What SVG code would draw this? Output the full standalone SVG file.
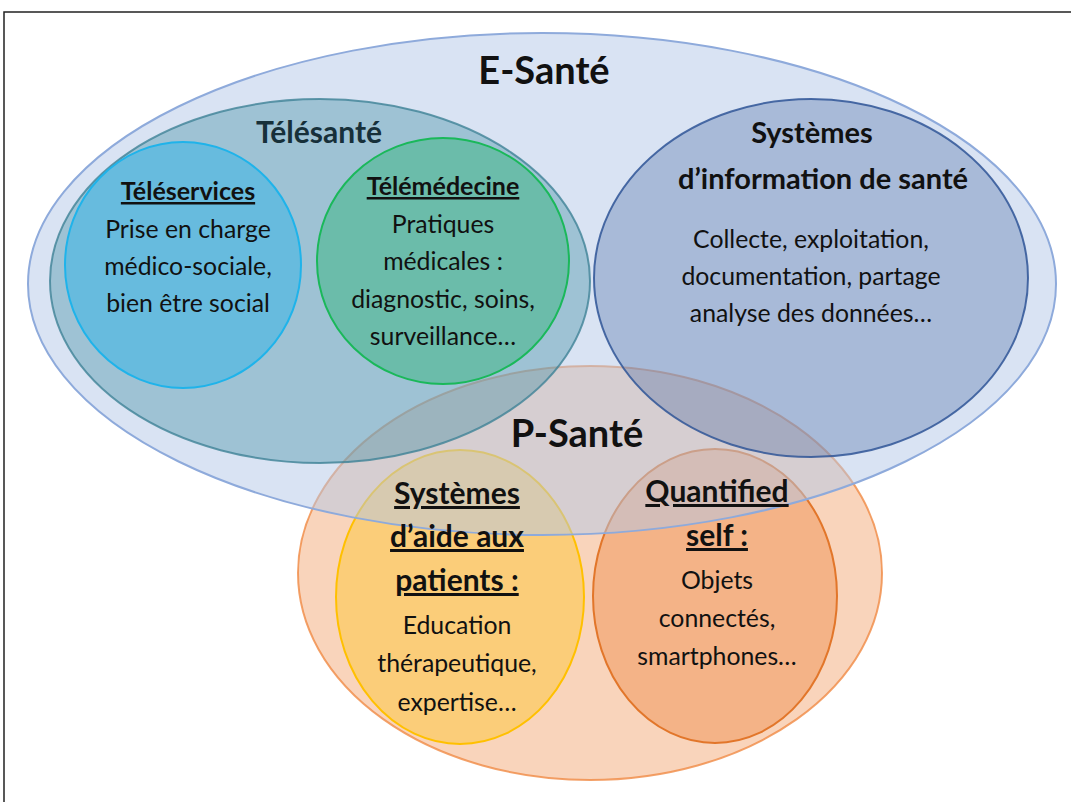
<svg xmlns="http://www.w3.org/2000/svg" width="1071" height="802" viewBox="0 0 1071 802">
<style>
text{font-family:Lato,"Open Sans","Liberation Sans",sans-serif;text-anchor:middle;fill:#111}
.big{font-size:38px;font-weight:700}
.h{font-size:25px;font-weight:700;text-decoration:underline}
.h2{font-size:30px;font-weight:700;text-decoration:underline}
.t{font-size:24.8px}
.si{font-size:29px;font-weight:700}
</style>
<rect x="4" y="12" width="1100" height="820" fill="#fff" stroke="#222" stroke-width="1.5"/>
<g id="p-sante">
<ellipse cx="590" cy="573" rx="292" ry="207" fill="#f4b183" fill-opacity="0.55" stroke="#f08a43" stroke-opacity="0.8" stroke-width="2"/>
</g>
<g id="aide-patients">
<ellipse cx="460" cy="597" rx="124" ry="147" fill="#ffc000" fill-opacity="0.35" stroke="#ffc000" stroke-width="2"/>
</g>
<g id="quantified-self">
<ellipse cx="715" cy="596" rx="122" ry="147" fill="#ed7d31" fill-opacity="0.38" stroke="#e2762a" stroke-width="2"/>
</g>
<g id="e-sante">
<ellipse cx="542" cy="284" rx="514" ry="251" fill="#b4c7e7" fill-opacity="0.5" stroke="#8eaadb" stroke-width="2"/>
</g>
<g id="telesante">
<ellipse cx="320" cy="281" rx="270" ry="182" fill="#31859c" fill-opacity="0.35" stroke="#3e8296" stroke-opacity="0.8" stroke-width="2"/>
</g>
<g id="teleservices">
<ellipse cx="183" cy="265" rx="118" ry="123" fill="#00b0f0" fill-opacity="0.35" stroke="#1fb3ea" stroke-width="2"/>
</g>
<g id="telemedecine">
<ellipse cx="443" cy="261" rx="126" ry="123" fill="#00b050" fill-opacity="0.32" stroke="#1ab85a" stroke-width="2"/>
</g>
<g id="systemes-information">
<ellipse cx="811" cy="278" rx="217" ry="179" fill="#2f5597" fill-opacity="0.29" stroke="#2f5597" stroke-opacity="0.85" stroke-width="2"/>
</g>
<g id="labels">
<text class="big" x="544" y="84">E-Santé</text>
<text x="319" y="143" style="font-size:30px;font-weight:700;fill:#17303a">Télésanté</text>
<text class="h" x="188" y="200">Téléservices</text>
<text class="t" x="188" y="238">Prise en charge</text>
<text class="t" x="188" y="275">médico-sociale,</text>
<text class="t" x="188" y="312">bien être social</text>
<text class="h" x="443" y="195">Télémédecine</text>
<text class="t" x="443" y="233">Pratiques</text>
<text class="t" x="443" y="270">médicales :</text>
<text class="t" x="443" y="308">diagnostic, soins,</text>
<text class="t" x="443" y="345">surveillance…</text>
<text class="si" x="812" y="143">Systèmes</text>
<text class="si" x="823" y="189">d’information de santé</text>
<text class="t" x="811" y="248">Collecte, exploitation,</text>
<text class="t" x="811" y="285">documentation, partage</text>
<text class="t" x="811" y="322">analyse des données…</text>
<text class="big" x="577" y="447">P-Santé</text>
<text class="h2" x="457" y="504">Systèmes</text>
<text class="h2" x="457" y="547">d’aide aux</text>
<text class="h2" x="457" y="591">patients :</text>
<text class="t" x="457" y="634">Education</text>
<text class="t" x="457" y="672">thérapeutique,</text>
<text class="t" x="457" y="711">expertise…</text>
<text class="h2" x="717" y="502">Quantified</text>
<text class="h2" x="717" y="546">self :</text>
<text class="t" x="717" y="589">Objets</text>
<text class="t" x="717" y="627">connectés,</text>
<text class="t" x="717" y="665">smartphones…</text>
</g>
</svg>
